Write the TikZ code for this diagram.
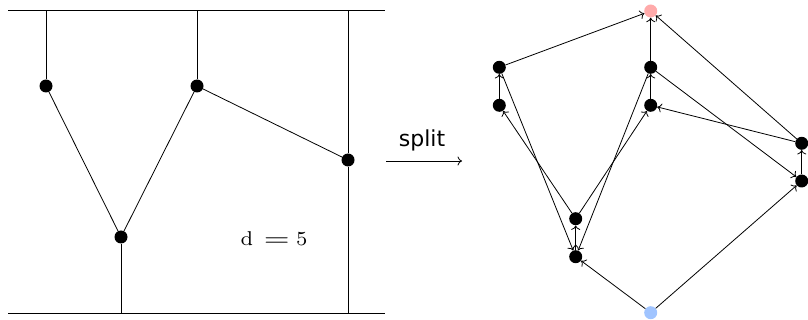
\documentclass[tikz,border=0pt]{standalone}
\usepackage{fontspec}
\newfontfamily\labelfont{DejaVu Sans}
\newfontfamily\dfont{lmroman7-regular}[Extension=.otf]
\usetikzlibrary{arrows.meta}
\definecolor{srcblue}{RGB}{160,196,255}
\definecolor{sinkpink}{RGB}{255,170,170}
\tikzset{
  vtx/.style={circle,fill=black,inner sep=0pt,minimum size=13pt},
  src/.style={circle,fill=srcblue,inner sep=0pt,minimum size=13pt},
  snk/.style={circle,fill=sinkpink,inner sep=0pt,minimum size=13pt},
  edge/.style={line width=0.8pt,black},
  arc/.style={line width=0.8pt,black,-{To[length=4.5pt,width=9pt]}},
}
\begin{document}
\begin{tikzpicture}[x=1pt,y=-1pt]
\useasboundingbox (0,0) rectangle (808,320);
% left diagram
\coordinate (tl) at (8,10.7);
\coordinate (tr) at (385,10.7);
\coordinate (bl) at (8,313);
\coordinate (br) at (385,313);
\draw[edge] (tl) -- (tr);
\draw[edge] (bl) -- (br);
\node[vtx] (a) at (46,86) {};
\node[vtx] (b) at (197,86) {};
\node[vtx] (c) at (348,160) {};
\node[vtx] (d) at (121,237) {};
\coordinate (ta) at (46,10.7);
\coordinate (tb) at (197,10.7);
\coordinate (tc) at (348,10.7);
\coordinate (bc) at (348,313);
\coordinate (bd) at (121,313);
\draw[edge] (ta) -- (a);
\draw[edge] (tb) -- (b);
\draw[edge] (tc) -- (c) -- (bc);
\draw[edge] (d) -- (bd);
\draw[edge] (a) -- (d);
\draw[edge] (b) -- (d);
\draw[edge] (b) -- (c);
\node[font=\dfont\fontsize{20}{24}\selectfont,anchor=base west,inner sep=0pt] (dlabel) at (240.5,245.7)
  {d\hspace{10.4pt}\scalebox{1.5}[1]{=}\hspace{6.2pt}5};
% split arrow
\coordinate (s0) at (386,161);
\coordinate (s1) at (462,161);
\draw[line width=0.8pt,-{To[length=4.5pt,width=9pt]}] (s0) -- (s1);
\node[font=\labelfont\fontsize{22}{26}\selectfont,anchor=base] (split) at (422,147) {split};
% right diagram
\node[snk] (t) at (650.7,11) {};
\node[src] (s) at (650.7,312.7) {};
\node[vtx] (ao) at (499.3,67.3) {};
\node[vtx] (ai) at (499.3,105.3) {};
\node[vtx] (bo) at (650.7,67.3) {};
\node[vtx] (bi) at (650.7,105.3) {};
\node[vtx] (co) at (801.7,143.3) {};
\node[vtx] (ci) at (801.7,181) {};
\node[vtx] (do) at (575.7,218.7) {};
\node[vtx] (di) at (575.7,256.7) {};
\draw[arc] (ai) -- (ao);
\draw[arc] (bi) -- (bo);
\draw[arc] (ci) -- (co);
\draw[arc] (di) -- (do);
\draw[arc] (ao) -- (t);
\draw[arc] (bo) -- (t);
\draw[arc] (co) -- (t);
\draw[arc] (s) -- (di);
\draw[arc] (s) -- (ci);
\draw[arc] (ao) -- (di);
\draw[arc] (do) -- (ai);
\draw[arc] (bo) -- (di);
\draw[arc] (do) -- (bi);
\draw[arc] (bo) -- (ci);
\draw[arc] (co) -- (bi);
\end{tikzpicture}
\end{document}
